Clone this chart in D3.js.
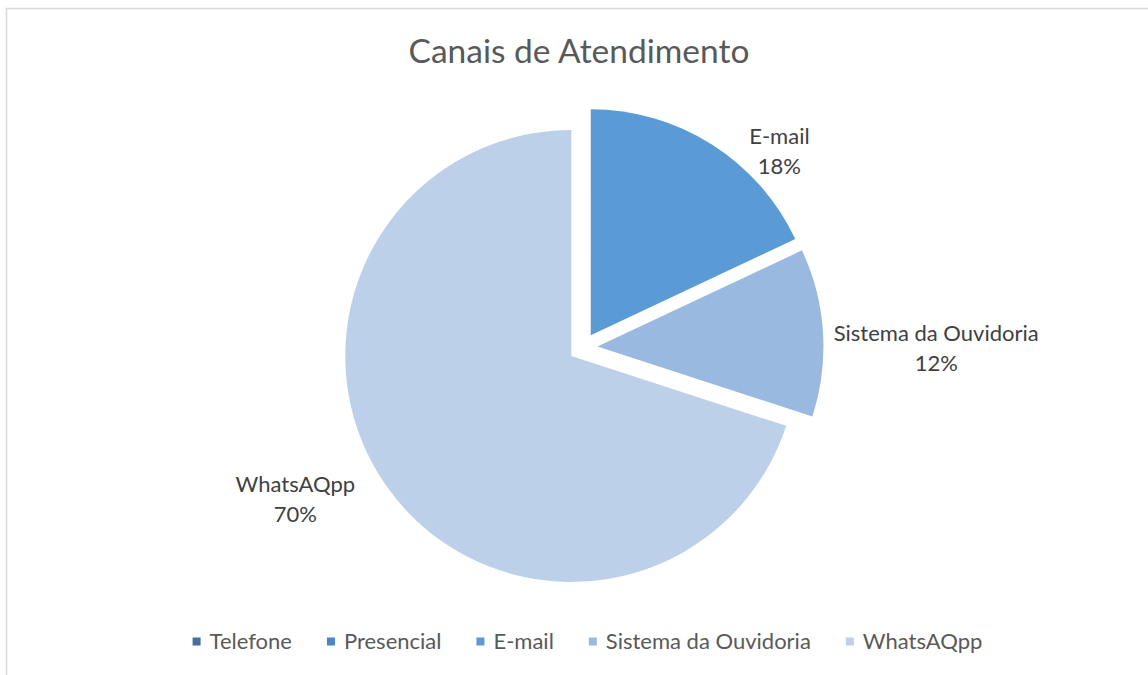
<!DOCTYPE html>
<html lang="pt">
<head>
  <meta charset="UTF-8">
  <script src="https://cdn.jsdelivr.net/npm/d3@7/dist/d3.min.js"></script>
  <title>Canais de Atendimento</title>
  <style>
    body { margin: 0; background: #fff; }
    text { font-family: Lato, "Open Sans", sans-serif; }
  </style>
</head>
<body>
  <script>
    // data
    const categories = ["Telefone", "Presencial", "E-mail", "Sistema da Ouvidoria", "WhatsAQpp"];
    const shares = [0, 0, 18, 12, 70];
    const colors = ["#41719c", "#4a86c8", "#5b9bd5", "#9ab9e1", "#bdd0ea"];

    const width = 1148;
    const height = 675;
    const cx = 583, cy = 347.5;   // pie centre
    const radius = 226;
    const explode = 14.5;

    // label placement: centroid on a wider arc, then a small nudge like Excel's best fit
    const labelArc = d3.arc().innerRadius(radius * 1.3).outerRadius(radius * 1.3);
    const labelNudge = { "E-mail": [39, 48], "Sistema da Ouvidoria": [60, 15], "WhatsAQpp": [-50, -25] };

    const data = categories.map((c, i) => ({ name: c, value: shares[i], color: colors[i] }));

    const svg = d3.select("body").append("svg")
      .attr("width", width)
      .attr("height", height);

    // chart frame
    svg.append("rect")
      .attr("x", 6.5).attr("y", 8.5)
      .attr("width", width).attr("height", height)
      .attr("fill", "#fff")
      .attr("stroke", "#d9d9d9")
      .attr("stroke-width", 1.5);

    svg.append("text")
      .attr("x", 579).attr("y", 63)
      .attr("text-anchor", "middle")
      .attr("fill", "#595959")
      .style("font-size", "33.5px")
      .text("Canais de Atendimento");

    const pie = d3.pie().sort(null).value(d => d.value);
    const arc = d3.arc().innerRadius(0).outerRadius(radius);
    const arcs = pie(data).filter(d => d.value > 0);

    const mid = d => (d.startAngle + d.endAngle) / 2;

    const g = svg.append("g").attr("transform", `translate(${[cx, cy]})`);

    g.selectAll("path.slice")
      .data(arcs)
      .join("path")
      .attr("class", "slice")
      .attr("d", arc)
      .attr("fill", d => d.data.color)
      .attr("transform", d => `translate(${[explode * Math.sin(mid(d)), -explode * Math.cos(mid(d))]})`);

    const labels = g.selectAll("text.lbl")
      .data(arcs)
      .join("text")
      .attr("class", "lbl")
      .attr("text-anchor", "middle")
      .attr("fill", "#404040")
      .style("font-size", "22px")
      .attr("transform", d => {
        const [x, y] = labelArc.centroid(d);
        const n = labelNudge[d.data.name] || [0, 0];
        return `translate(${[x + n[0], y + n[1]]})`;
      });
    labels.append("tspan").attr("x", 0).attr("dy", "-0.15em").text(d => d.data.name);
    labels.append("tspan").attr("x", 0).attr("dy", "1.36em").text(d => `${d.data.value}%`);

    // legend, centred under the pie
    const legend = svg.append("g");
    const items = legend.selectAll("g")
      .data(data)
      .join("g");
    items.append("rect")
      .attr("width", 8).attr("height", 8)
      .attr("y", -4)
      .attr("fill", d => d.color);
    items.append("text")
      .attr("x", 17)
      .attr("y", 7.5)
      .attr("fill", "#595959")
      .style("font-size", "22px")
      .text(d => d.name);

    let pos = 0;
    items.each(function () {
      const w = d3.select(this).select("text").node().getComputedTextLength();
      d3.select(this).attr("transform", `translate(${[pos, 0]})`);
      pos += 17 + w + 35;
    });
    pos -= 35;
    legend.attr("transform", `translate(${[587.5 - pos / 2, 641.5]})`);
  </script>
</body>
</html>
